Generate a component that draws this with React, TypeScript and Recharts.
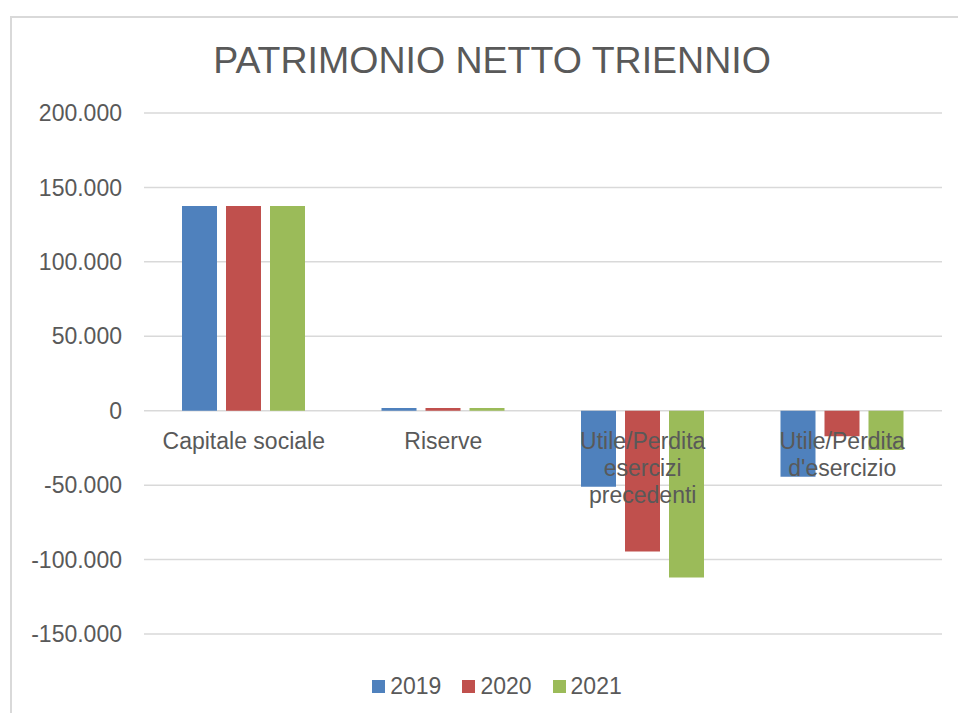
import { BarChart, Bar, XAxis, YAxis, CartesianGrid, Legend } from 'recharts'

const categories = ['Capitale sociale', 'Riserve', 'Utile/Perdita esercizi precedenti', "Utile/Perdita d'esercizio"]
const values2019 = [137600, 1800, -51000, -44300]
const values2020 = [137600, 1800, -94600, -17200]
const values2021 = [137600, 1800, -112000, -26400]
const yTicks = [-150000, -100000, -50000, 0, 50000, 100000, 150000, 200000]

const Y_MIN = -150000
const Y_MAX = 200000
const PLOT_TOP = 113
const PLOT_BOTTOM = 634
const FONT = '"Liberation Sans", Arial, sans-serif'
const GREY = '#595959'

const series = [
  { key: '2019', color: '#4f81bd', values: values2019 },
  { key: '2020', color: '#c0504d', values: values2020 },
  { key: '2021', color: '#9bbb59', values: values2021 },
]

const data = categories.map((name, i) => {
  const row: Record<string, string | number> = { name }
  series.forEach(s => { row[s.key] = s.values[i] })
  return row
})

const formatIt = (v: number) => {
  const s = Math.abs(v).toString().replace(/\B(?=(\d{3})+(?!\d))/g, '.')
  return v < 0 ? `-${s}` : s
}

let ctx: CanvasRenderingContext2D | null = null
const measure = (t: string) => {
  if (!ctx) {
    ctx = document.createElement('canvas').getContext('2d')
    if (ctx) ctx.font = `23px ${FONT}`
  }
  return ctx ? ctx.measureText(t).width : t.length * 12
}

// greedy word wrap, same idea as excel's category labels
const wrap = (label: string, maxW: number) => {
  const lines: string[] = []
  let cur = ''
  label.split(' ').forEach(w => {
    const next = cur ? `${cur} ${w}` : w
    if (cur && measure(next) > maxW) {
      lines.push(cur)
      cur = w
    } else {
      cur = next
    }
  })
  if (cur) lines.push(cur)
  return lines
}

// category labels sit under the zero line
function CategoryTick({ x, y, payload }: any) {
  const plotH = PLOT_BOTTOM - PLOT_TOP
  const zeroY = y - plotH * (0 - Y_MIN) / (Y_MAX - Y_MIN)
  const lines = wrap(payload.value, 172)
  return (
    <text x={x} y={zeroY + 38} textAnchor="middle" fill={GREY} fontSize={23} fontFamily={FONT}>
      {lines.map((l, i) => (
        <tspan key={i} x={x} dy={i === 0 ? 0 : 27}>{l}</tspan>
      ))}
    </text>
  )
}

function LegendContent() {
  return (
    <div style={{ display: 'flex', justifyContent: 'center', paddingLeft: 52, height: 26, alignItems: 'center', fontFamily: FONT, fontSize: 23, color: GREY }}>
      {series.map((s, i) => (
        <div key={s.key} style={{ display: 'flex', alignItems: 'center', marginLeft: i === 0 ? 0 : 21 }}>
          <div style={{ width: 13, height: 13, background: s.color, marginRight: 5 }} />
          <span>{s.key}</span>
        </div>
      ))}
    </div>
  )
}

export default function App() {
  return (
    <div style={{ position: 'absolute', left: 0, top: 0, width: 958, height: 713, overflow: 'hidden', background: '#fff', fontFamily: FONT }}>
      <div style={{ position: 'absolute', left: 10, top: 16, width: 990, height: 720, border: '2px solid #d9d9d9' }} />
      <div style={{ position: 'absolute', left: 0, top: 37, width: 984, textAlign: 'center', fontSize: 37.5, color: GREY, lineHeight: '46px' }}>
        PATRIMONIO NETTO TRIENNIO
      </div>
      <div style={{ position: 'absolute', left: 0, top: 0 }}>
        <BarChart
          width={958}
          height={713}
          data={data}
          margin={{ top: PLOT_TOP, right: 16, left: 0, bottom: 14 }}
          barCategoryGap={38}
          barGap={9}
        >
          <CartesianGrid vertical={false} stroke="#d9d9d9" strokeWidth={1.5} />
          <YAxis
            width={144}
            domain={[Y_MIN, Y_MAX]}
            ticks={yTicks}
            tickFormatter={formatIt}
            axisLine={false}
            tickLine={false}
            tickSize={0}
            tickMargin={22}
            tick={{ fill: GREY, fontSize: 23, fontFamily: FONT }}
            allowDataOverflow
          />
          {series.map(s => (
            <Bar key={s.key} dataKey={s.key} fill={s.color} isAnimationActive={false} />
          ))}
          <XAxis
            dataKey="name"
            height={39}
            axisLine={false}
            tickLine={false}
            tickSize={0}
            tickMargin={0}
            interval={0}
            tick={<CategoryTick />}
          />
          <Legend verticalAlign="bottom" height={26} content={<LegendContent />} />
        </BarChart>
      </div>
    </div>
  )
}
